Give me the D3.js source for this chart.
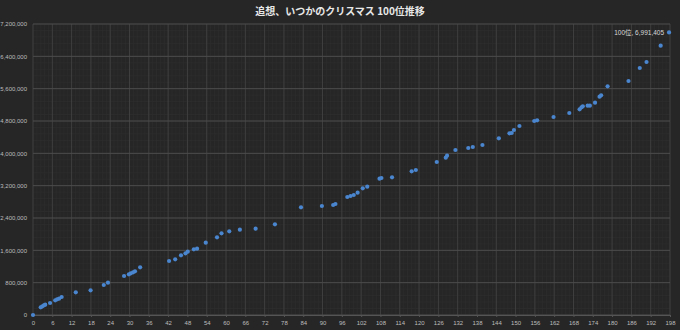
<!DOCTYPE html>
<html>
<head>
<meta charset="utf-8">
<script src="https://cdn.jsdelivr.net/npm/d3@7"></script>
<style>
  html, body { margin: 0; padding: 0; background: #262626; }
  svg { display: block; }
</style>
</head>
<body>
<svg id="chart" width="680" height="330"></svg>
<script>
const title = "追想、いつかのクリスマス 100位推移";
const seriesName = "100位";
const days = [0, 2.4, 2.9, 3.4, 3.8, 5.3, 6.9, 7.5, 8.1, 8.9, 13.3, 17.9, 22.0, 23.3, 28.3, 29.8, 30.4, 31.1, 31.7, 33.3,
  42.3, 44.2, 46.0, 47.4, 48.1, 50.0, 51.0, 53.7, 57.2, 58.6, 61.0, 64.3, 69.2, 75.2, 83.3, 89.8, 93.3, 94.0,
  97.7, 98.7, 99.7, 100.9, 102.5, 103.9, 107.7, 108.3, 111.6, 117.7, 119.0, 125.5, 128.3, 128.7, 131.3, 135.3, 136.7, 139.7,
  144.8, 148.1, 148.8, 149.5, 151.2, 155.8, 156.7, 161.8, 166.7, 169.9, 170.5, 170.9, 172.4, 173.1, 174.7, 176.1, 176.6,
  178.6, 185.1, 188.6, 190.7, 195.1, 197.7];
const points = [0, 190000, 215000, 240000, 255000, 297000, 364000, 388000, 403000, 445000, 562000, 611000, 742000, 799000,
  965000, 1007000, 1032000, 1056000, 1081000, 1180000,
  1336000, 1378000, 1477000, 1527000, 1566000, 1625000, 1640000, 1789000, 1922000, 2021000, 2071000, 2111000, 2135000, 2244000,
  2665000, 2697000, 2722000, 2746000,
  2920000, 2944000, 2969000, 3026000, 3134000, 3175000, 3373000, 3390000, 3407000, 3555000, 3588000, 3786000, 3893000, 3942000,
  4082000, 4132000, 4157000, 4206000,
  4372000, 4495000, 4503000, 4577000, 4676000, 4800000, 4817000, 4899000, 4998000, 5089000, 5139000, 5164000, 5179000, 5179000,
  5253000, 5401000, 5436000, 5659000, 5790000, 6111000, 6260000, 6663000, 6991405];
const xTicks = d3.range(0, 199, 6);
const yTicks = d3.range(0, 7200001, 800000);

const svg = d3.select("#chart");
const W = 680, H = 330;
const x = d3.scaleLinear().domain([0, 198]).range([33, 670]);
const y = d3.scaleLinear().domain([0, 7200000]).range([315, 24]);

svg.append("rect").attr("width", W).attr("height", H).attr("fill", "#262626");

// minor grid
const g = svg.append("g");
g.selectAll("line.mx").data(d3.range(0, 198.01, 1.2)).join("line")
  .attr("x1", d => x(d)).attr("x2", d => x(d)).attr("y1", y(0)).attr("y2", y(7200000))
  .attr("stroke", "#2f2f2f").attr("stroke-width", 0.6);
g.selectAll("line.my").data(d3.range(0, 7200001, 160000)).join("line")
  .attr("y1", d => y(d)).attr("y2", d => y(d)).attr("x1", x(0)).attr("x2", x(198))
  .attr("stroke", "#2f2f2f").attr("stroke-width", 0.6);
// major grid
g.selectAll("line.vx").data(xTicks).join("line")
  .attr("x1", d => x(d)).attr("x2", d => x(d)).attr("y1", y(0)).attr("y2", y(7200000))
  .attr("stroke", "#444").attr("stroke-width", 0.8);
g.selectAll("line.hy").data(yTicks).join("line")
  .attr("y1", d => y(d)).attr("y2", d => y(d)).attr("x1", x(0)).attr("x2", x(198))
  .attr("stroke", "#4c4c4c").attr("stroke-width", 1);

// axes
const fmt = d3.format(",");
const xAxis = d3.axisBottom(x).tickValues(xTicks).tickSize(2).tickPadding(4);
const yAxis = d3.axisLeft(y).tickValues(yTicks).tickFormat(fmt).tickSize(0).tickPadding(6);
const gx = svg.append("g").attr("transform", `translate(0,${y(0)})`).call(xAxis);
const gy = svg.append("g").attr("transform", `translate(${x(0)},0)`).call(yAxis);
[gx, gy].forEach(a => {
  a.select(".domain").attr("stroke", "#555");
  a.selectAll(".tick line").attr("stroke", "#555");
  a.selectAll("text").attr("fill", "#bdbdbd").attr("font-size", 6).attr("font-family", "Liberation Sans, Arial, sans-serif");
});
gy.select(".domain").remove();

// points
svg.append("g").selectAll("circle").data(days.map((d, i) => [d, points[i]])).join("circle")
  .attr("cx", d => x(d[0])).attr("cy", d => y(d[1])).attr("r", 2.1)
  .attr("fill", "#4a86cf");

// annotation on last point
const last = days.length - 1;
svg.append("text").attr("x", x(days[last]) - 5).attr("y", y(points[last]) + 2.2)
  .attr("text-anchor", "end").attr("fill", "#d9d9d9").attr("font-size", 6.5)
  .attr("font-family", "Liberation Sans, 'Noto Sans CJK JP', sans-serif")
  .text(`${seriesName}, ${fmt(points[last])}`);

// title
svg.append("text").attr("x", 340).attr("y", 15).attr("text-anchor", "middle")
  .attr("fill", "#e8e8e8").attr("font-size", 10).attr("font-weight", "bold")
  .attr("font-family", "'Noto Sans CJK JP', sans-serif")
  .text(title);
</script>
</body>
</html>
